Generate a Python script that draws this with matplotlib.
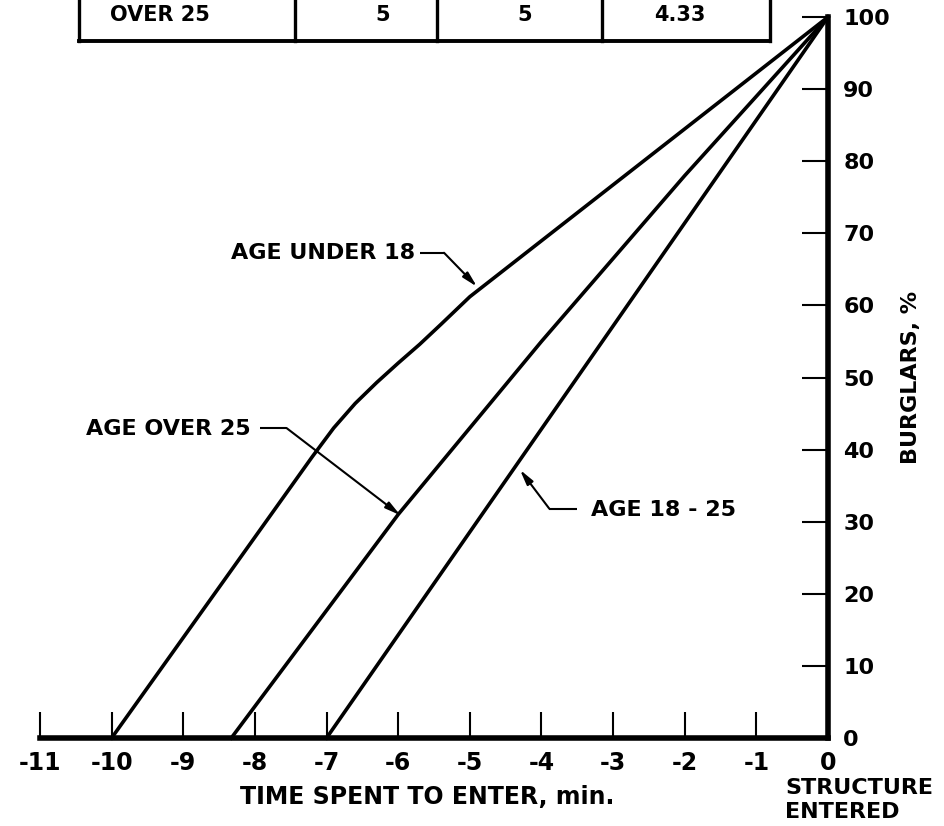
import matplotlib
matplotlib.use("Agg")
import matplotlib.pyplot as plt
from matplotlib.lines import Line2D

# curvas (minutos antes de entrar, % de arrombadores)
x_under18 = [-10, -7.2, -6.9, -6.6, -6.3, -6.0, -5.7, -5.4, -5.0, 0]
y_under18 = [0, 39, 43, 46.4, 49.3, 52.0, 54.6, 57.4, 61.2, 100]

x_over25 = [-8.33, -6.0, -4.0, -2.0, 0]
y_over25 = [0, 31, 55, 78, 100]

x_18a25 = [-7.0, -3.5, 0]
y_18a25 = [0, 50, 100]

x_ticks = list(range(-11, 1))
y_ticks = list(range(0, 101, 10))

# última linha da tabela (cortada no topo da página)
tabela_linha = ["OVER 25", "5", "5", "4.33"]

W, H = 944, 826


def fx(px):
    return px / W


def fy(py):
    return 1 - py / H


def desenhar_tabela(fig):
    # colunas e borda inferior da tabela
    cols = [79, 295, 437, 602, 770]
    fig.add_artist(Line2D([fx(cols[0]), fx(cols[-1])], [fy(41), fy(41)], color="black", lw=2.8))
    for c in cols:
        fig.add_artist(Line2D([fx(c), fx(c)], [fy(41), fy(-5)], color="black", lw=2.4))
    centros = [160, 383, 525, 680]
    for txt, cx in zip(tabela_linha, centros):
        fig.text(fx(cx), fy(21), txt, ha="center", va="baseline", fontsize=15, fontweight="bold")


def seta(ax, pontos):
    xs = [p[0] for p in pontos]
    ys = [p[1] for p in pontos]
    ax.plot(xs[:-1], ys[:-1], color="black", lw=1.5, solid_capstyle="butt")
    ax.annotate("", xy=pontos[-1], xytext=pontos[-2],
                arrowprops=dict(arrowstyle="-|>,head_length=0.9,head_width=0.22",
                                color="black", lw=1.5, shrinkA=0, shrinkB=0))


def main():
    plt.rcParams["font.family"] = ["DejaVu Sans"]
    plt.rcParams["font.weight"] = "bold"

    fig = plt.figure(figsize=(W / 100, H / 100), dpi=100)
    ax = fig.add_axes([fx(40), 88 / H, 788 / W, 721 / H])

    for xs, ys in [(x_under18, y_under18), (x_over25, y_over25), (x_18a25, y_18a25)]:
        ax.plot(xs, ys, color="black", lw=2.6, clip_on=False, solid_joinstyle="round")

    ax.set_xlim(-11, 0)
    ax.set_ylim(0, 100)

    ax.spines["top"].set_visible(False)
    ax.spines["left"].set_visible(False)
    ax.spines["right"].set_linewidth(4)
    ax.spines["bottom"].set_linewidth(4)

    ax.yaxis.tick_right()
    ax.set_xticks(x_ticks)
    ax.set_xticklabels([str(v) for v in x_ticks])
    ax.set_yticks(y_ticks)
    ax.set_yticklabels([str(v) for v in y_ticks])
    ax.tick_params(axis="x", direction="in", length=19, width=1.5, pad=9, labelsize=17)
    ax.tick_params(axis="y", direction="in", length=19, width=1.5, pad=11, labelsize=16)

    ax.yaxis.set_label_position("right")
    ax.set_ylabel("BURGLARS, %", fontsize=16, fontweight="bold", labelpad=8)

    # rótulos das curvas
    ax.text(-5.76, 67.3, "AGE UNDER 18", ha="right", va="center", fontsize=16)
    seta(ax, [(-5.69, 67.3), (-5.36, 67.3), (-4.9, 62.6)])

    ax.text(-8.06, 42.9, "AGE OVER 25", ha="right", va="center", fontsize=16)
    seta(ax, [(-7.93, 43.0), (-7.56, 43.0), (-5.97, 30.9)])

    ax.text(-3.31, 31.6, "AGE 18 - 25", ha="left", va="center", fontsize=16)
    seta(ax, [(-3.50, 31.8), (-3.89, 31.8), (-4.30, 37.2)])

    fig.text(fx(427), fy(797), "TIME SPENT TO ENTER, min.", ha="center", va="center", fontsize=17)
    fig.text(fx(785), fy(788), "STRUCTURE", ha="left", va="center", fontsize=16)
    fig.text(fx(785), fy(812), "ENTERED", ha="left", va="center", fontsize=16)

    desenhar_tabela(fig)

    fig.savefig("out.png", dpi=100)
    plt.close(fig)


if __name__ == "__main__":
    main()
